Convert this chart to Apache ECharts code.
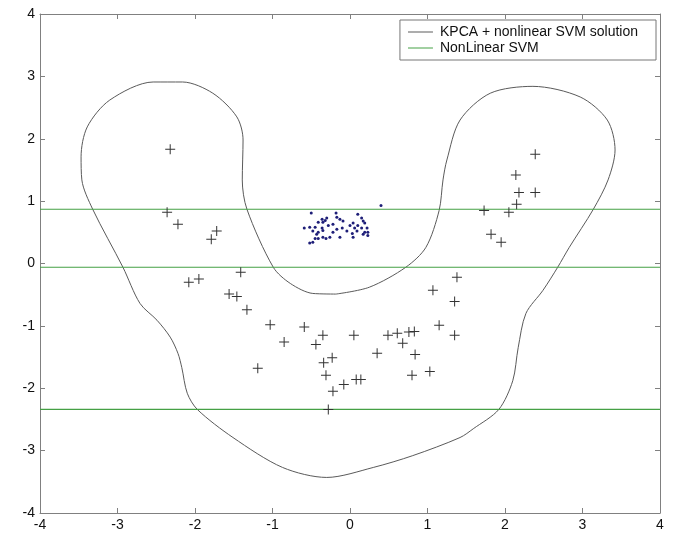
<!DOCTYPE html>
<html>
<head>
<meta charset="utf-8">
<script src="https://cdn.jsdelivr.net/npm/echarts@6/dist/echarts.min.js"></script>
<style>
  html, body { margin: 0; padding: 0; background: #fff; }
  #chart { width: 673px; height: 533px; }
</style>
</head>
<body>
<div id="chart"></div>
<script>
// decision boundary of KPCA + nonlinear SVM (closed contour)
const boundaryPoints = [
  [-0.18, -0.49], [0.25, -0.38], [0.72, -0.06], [0.98, 0.26], [1.15, 0.85],
  [1.2, 1.34], [1.25, 1.66], [1.42, 2.3], [1.81, 2.73], [2.36, 2.84],
  [2.97, 2.67], [3.32, 2.3], [3.42, 1.82], [3.33, 1.34], [3.14, 0.87],
  [2.83, 0.26], [2.68, -0.06], [2.49, -0.43], [2.27, -0.8], [2.17, -1.35],
  [2.1, -1.88], [1.92, -2.34], [1.59, -2.65], [1.42, -2.79], [0.81, -3.08],
  [0.3, -3.27], [-0.3, -3.43], [-0.87, -3.27], [-1.51, -2.79], [-1.97, -2.34],
  [-2.1, -2.08], [-2.17, -1.67], [-2.22, -1.44], [-2.32, -1.18], [-2.49, -0.91],
  [-2.71, -0.64], [-2.93, -0.06],
  [-3.32, 0.87], [-3.46, 1.34], [-3.47, 1.71], [-3.39, 2.19], [-3.1, 2.62],
  [-2.54, 2.91], [-2.16, 2.91], [-1.77, 2.73], [-1.46, 2.35], [-1.38, 1.98],
  [-1.39, 1.34], [-1.33, 0.87], [-0.99, -0.06], [-0.77, -0.32], [-0.48, -0.48],
  [-0.18, -0.49]
]

// levels of the linear-looking nonlinear SVM boundaries
const svmLevels = [0.87, -0.06, -2.34]

// class 1 samples (+)
const plusPoints = [
  [-2.32, 1.83], [-2.36, 0.82], [-2.22, 0.63], [-1.79, 0.39], [-1.72, 0.52],
  [-2.08, -0.3], [-1.95, -0.25], [-1.41, -0.14], [-1.56, -0.49], [-1.46, -0.53],
  [-1.33, -0.74], [-1.03, -0.98], [-0.85, -1.26], [-0.59, -1.02], [-0.35, -1.15],
  [-0.44, -1.3], [-1.19, -1.68], [-0.23, -1.51], [-0.34, -1.59], [-0.31, -1.79],
  [-0.22, -2.05], [-0.08, -1.94], [0.08, -1.86], [0.14, -1.86], [-0.28, -2.34],
  [0.05, -1.15], [0.49, -1.15], [0.35, -1.44], [0.61, -1.12], [0.76, -1.1],
  [0.83, -1.09], [0.68, -1.28], [0.84, -1.46], [0.8, -1.79], [1.03, -1.73],
  [1.15, -0.99], [1.35, -1.15], [1.35, -0.61], [1.38, -0.22], [1.07, -0.43],
  [1.73, 0.85], [2.05, 0.82], [2.15, 0.95], [2.18, 1.14], [2.39, 1.14],
  [1.82, 0.47], [1.95, 0.34], [2.39, 1.75], [2.14, 1.42]
]

// class 2 samples (dots)
const dotPoints = [
  [0.4, 0.93], [-0.5, 0.81], [-0.18, 0.81], [0.1, 0.79], [-0.17, 0.74],
  [-0.13, 0.71], [-0.36, 0.71], [-0.32, 0.69], [-0.41, 0.66], [-0.35, 0.66],
  [-0.09, 0.68], [0.15, 0.73], [0.17, 0.68], [0.19, 0.65], [0.04, 0.65],
  [0.0, 0.61], [-0.22, 0.63], [-0.28, 0.61], [-0.45, 0.58], [-0.52, 0.58],
  [-0.59, 0.57], [-0.36, 0.57], [-0.35, 0.53], [-0.1, 0.57], [0.06, 0.57],
  [0.15, 0.57], [0.22, 0.57], [0.19, 0.5], [0.23, 0.5], [0.09, 0.52],
  [0.03, 0.48], [-0.04, 0.52], [-0.22, 0.5], [-0.41, 0.5], [-0.48, 0.52],
  [-0.26, 0.42], [-0.13, 0.42], [0.04, 0.42], [0.17, 0.47], [0.23, 0.45],
  [-0.35, 0.42], [-0.31, 0.4], [-0.41, 0.4], [-0.45, 0.4], [-0.48, 0.34],
  [-0.52, 0.33], [-0.43, 0.47], [-0.17, 0.55], [-0.3, 0.73], [0.1, 0.61]
]

const axisMin = -4
const axisMax = 4

const chart = echarts.init(document.getElementById('chart'))

const plusSymbol = 'path://M4.5,0h1v4.5h4.5v1h-4.5v4.5h-1v-4.5h-4.5v-1h4.5z'
const boxColor = '#808080'
const green = '#45a045'

const frameAxis = (extra) => Object.assign({
  type: 'value',
  min: axisMin,
  max: axisMax,
  interval: 1,
  splitLine: { show: false },
  axisLine: { show: true, onZero: false, lineStyle: { color: boxColor, width: 1 } },
  axisTick: { show: true, inside: true, length: 5, lineStyle: { color: boxColor } },
  axisLabel: {
    color: '#111',
    fontFamily: 'Liberation Sans, Arial, sans-serif',
    fontSize: 14,
    margin: 5,
  },
}, extra)

const option = {
  animation: false,
  backgroundColor: '#fff',
  grid: { left: 40, right: 13, top: 14, bottom: 20 },
  xAxis: [
    frameAxis({ position: 'bottom' }),
    frameAxis({ position: 'top', axisLabel: { show: false } }),
  ],
  yAxis: [
    frameAxis({ position: 'left' }),
    frameAxis({ position: 'right', axisLabel: { show: false } }),
  ],
  legend: {
    data: ['KPCA + nonlinear SVM solution', 'NonLinear SVM'],
    orient: 'vertical',
    right: 17,
    top: 20,
    padding: [5, 18, 5, 8],
    itemGap: 2,
    itemWidth: 25,
    itemHeight: 1,
    icon: 'rect',
    backgroundColor: '#fff',
    borderColor: '#777',
    borderWidth: 1,
    borderRadius: 0,
    textStyle: {
      color: '#111',
      fontFamily: 'Liberation Sans, Arial, sans-serif',
      fontSize: 14,
      padding: [0, 0, 0, 2],
    },
  },
  series: [
    {
      name: 'KPCA + nonlinear SVM solution',
      type: 'line',
      data: boundaryPoints,
      smooth: 0.3,
      showSymbol: false,
      itemStyle: { color: '#5a5a5a' },
      lineStyle: { color: '#5a5a5a', width: 1 },
      z: 2,
    },
    ...svmLevels.map((y) => ({
      name: 'NonLinear SVM',
      type: 'line',
      data: [[axisMin, y], [axisMax, y]],
      showSymbol: false,
      itemStyle: { color: green },
      lineStyle: { color: green, width: 1.2 },
      z: 3,
    })),
    {
      name: 'class1',
      type: 'scatter',
      data: plusPoints,
      symbol: plusSymbol,
      symbolSize: 10,
      itemStyle: { color: '#333', opacity: 1 },
      z: 4,
    },
    {
      name: 'class2',
      type: 'scatter',
      data: dotPoints,
      symbol: 'circle',
      symbolSize: 3,
      itemStyle: { color: '#1e1e78', opacity: 1 },
      z: 4,
    },
  ],
}

chart.setOption(option)
</script>
</body>
</html>
